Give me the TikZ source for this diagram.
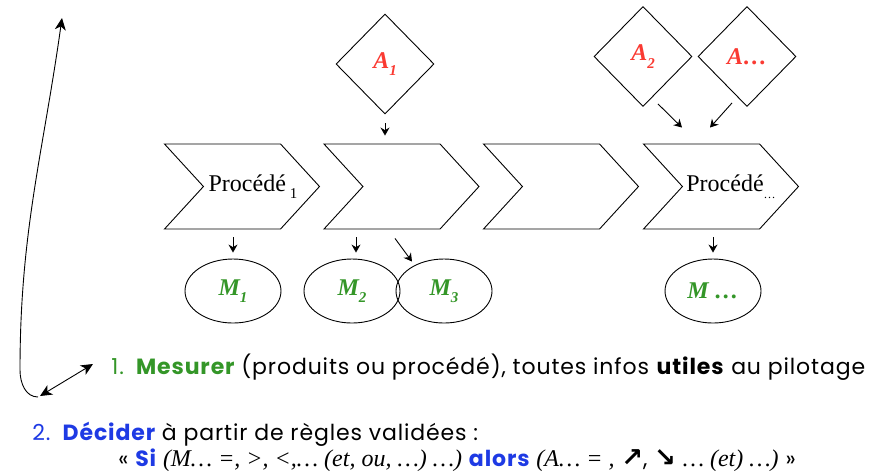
\documentclass[tikz,border=0pt]{standalone}
\usepackage{fontspec}
\setmainfont{Liberation Serif}
\newfontfamily\gothic[LetterSpace=4]{Poppins}
\newfontfamily\flechefont{DejaVu Sans}
\usetikzlibrary{shapes.geometric,shapes.symbols,arrows.meta}
\definecolor{mesvert}{RGB}{52,150,40}
\definecolor{actrouge}{RGB}{250,58,50}
\definecolor{decbleu}{RGB}{30,58,228}
% lowered index for the labels
\newcommand{\indice}[1]{\raisebox{-.3em}{\fontsize{15}{15}\selectfont #1}}
% serif italic parts of the rule
\newcommand{\regle}[1]{{\rmfamily\itshape\fontsize{24}{24}\selectfont #1}}
\newcommand{\fleche}[1]{{\flechefont\bfseries\fontsize{26}{26}\selectfont #1}}

\begin{document}
\begin{tikzpicture}[x=1pt,y=-1pt,line width=0.9pt,
    procede/.style={signal,draw,signal from=west,signal to=east,
      signal pointer angle=95,minimum width=155,minimum height=85,inner sep=0},
    action/.style={diamond,draw,minimum width=98,minimum height=100,inner sep=0,
      text=actrouge,font=\fontsize{24}{24}\selectfont\bfseries\itshape},
    mesure/.style={ellipse,draw,minimum width=96,minimum height=64,inner sep=0,
      text=mesvert,font=\fontsize{24}{24}\selectfont\bfseries\itshape},
    fl/.style={-{Stealth[length=8pt,width=9pt]}},
    grandfl/.style={{Stealth[length=12pt,width=11pt,inset=3.5pt]}-{Stealth[length=12pt,width=11pt,inset=3.5pt]}},
    ligne/.style={anchor=base west,inner sep=0,font=\gothic\fontsize{22}{22}\selectfont}]
  \useasboundingbox (0,0) rectangle (890,475);

  % the four steps of the process
  \node[procede] (P1) at (242,186.5) {};
  \node[procede] (P2) at (401.5,186.5) {};
  \node[procede] (P3) at (561,186.5) {};
  \node[procede] (P4) at (721,186.5) {};
  \node[font=\fontsize{24}{24}\selectfont] (t1) at (253,187) {Procédé\,\indice{1}};
  \node[font=\fontsize{24}{24}\selectfont] (t4) at (731,187) {Procédé\indice{\fontsize{12}{12}\selectfont…}};

  % actions
  \node[action] (A1) at (385,64) {A\indice{1}};
  \node[action] (A2) at (643,56.5) {A\indice{2}};
  \node[action] (A3) at (747,56.5) {A…};

  % measures
  \node[mesure] (M1) at (233,291) {M\indice{1}};
  \node[mesure] (M2) at (352,291) {M\indice{2}};
  \node[mesure] (M3) at (444,291) {M\indice{3}};
  \node[mesure] (M4) at (713,291) {M …};

  \draw[fl,shorten <=9,shorten >=8] (A1.south) -- (A1.south |- P2.north);
  \draw[fl] ([shift={(15,-3)}]A2.south) -- ([shift={(-39,-16)}]P4.north);
  \draw[fl] ([shift={(-15,-4)}]A3.south) -- ([shift={(-11,-16)}]P4.north);

  \draw[fl,shorten <=8,shorten >=6] (M1.north |- P1.south) -- (M1.north);
  \draw[fl,shorten <=8,shorten >=6] ([xshift=4]M2.north |- P2.south) -- ([xshift=4]M2.north);
  \draw[fl] ([shift={(-6.5,9)}]P2.south) -- ([shift={(-32,3)}]M3.north);
  \draw[fl,shorten <=8,shorten >=6] (M4.north |- P4.south) -- (M4.north);

  % the two steps of control
  \node[ligne] (L1) at (111,374) {{\color{mesvert}1.\hspace{.55em}\bfseries Mesurer} (produits ou procédé), toutes infos \textbf{utiles} au pilotage};
  \node[ligne] (L2) at (32,440) {{\color{decbleu}2.\hspace{.55em}\bfseries Décider} à partir de règles validées :};
  \node[ligne] (L3) at (118,466) {« {\color{decbleu}\bfseries Si} \regle{(M… =, >, <,… (et, ou, …) …)} {\color{decbleu}\bfseries alors} \regle{(A… = ,} \fleche{↗}, \fleche{↘} \regle{… (et) …)} »};

  % feedback loop
  \coordinate (boucle) at (38,397);
  \coordinate (haut) at (62,18);
  \coordinate (mes) at (93,364);
  \draw[-{Stealth[length=12pt,width=11pt,inset=3.5pt]}] (boucle) to[out=180,in=-90] (20,370) to[out=90,in=-98] (haut);
  \draw[grandfl] ([shift={(2,-1)}]boucle) -- (mes);
\end{tikzpicture}
\end{document}
